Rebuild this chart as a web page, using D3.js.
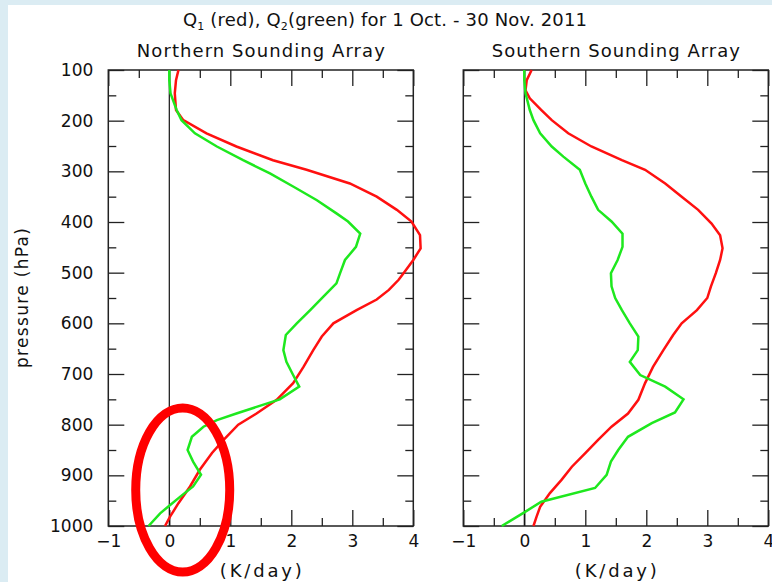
<!DOCTYPE html>
<html>
<head>
<meta charset="utf-8">
<script src="https://cdn.jsdelivr.net/npm/d3@7"></script>
<style>
  body { margin: 0; background: #dbecf3; }
  svg { display: block; }
  text { font-family: "DejaVu Sans", sans-serif; fill: #111; }
</style>
</head>
<body>
<div id="chart"></div>
<script>
// profiles as [pressure hPa, K/day]
var northQ1 = [[100,0.15],[120,0.11],[146,0.09],[179,0.11],[199,0.23],[225,0.61],[251,1.10],[278,1.70],
  [297,2.25],[324,2.96],[350,3.40],[376,3.73],[399,3.97],[426,4.11],[452,4.12],[475,4.00],[501,3.84],
  [514,3.76],[534,3.60],[553,3.40],[574,3.07],[600,2.69],[626,2.50],[653,2.36],[686,2.20],[718,2.03],
  [751,1.76],[778,1.43],[800,1.13],[830,0.89],[856,0.70],[889,0.50],[922,0.34],[955,0.15],[982,0.01],[1000,-0.07]];
var northQ2 = [[100,0.0],[120,0.0],[146,0.02],[179,0.12],[199,0.20],[225,0.42],[251,0.78],[278,1.21],
  [304,1.65],[330,2.03],[357,2.42],[383,2.74],[399,2.93],[423,3.13],[449,3.06],[475,2.88],[501,2.80],
  [521,2.74],[547,2.53],[574,2.31],[600,2.09],[623,1.91],[653,1.87],[676,1.92],[702,2.03],[725,2.13],
  [750,1.81],[765,1.43],[778,1.10],[791,0.78],[804,0.56],[824,0.37],[850,0.30],[873,0.39],[899,0.52],
  [922,0.39],[942,0.18],[962,-0.02],[975,-0.15],[1000,-0.34]];
var southQ1 = [[100,0.12],[120,0.04],[140,0.02],[156,0.09],[179,0.28],[199,0.45],[225,0.72],[251,1.10],
  [278,1.60],[297,1.98],[324,2.31],[350,2.58],[376,2.85],[403,3.07],[426,3.21],[452,3.25],[475,3.21],
  [501,3.14],[527,3.06],[550,3.00],[574,2.83],[600,2.58],[623,2.44],[653,2.28],[686,2.11],[718,1.98],
  [751,1.87],[778,1.70],[804,1.43],[830,1.21],[856,1.00],[883,0.78],[909,0.61],[935,0.42],[962,0.26],
  [982,0.20],[1000,0.15]];
var southQ2 = [[100,0.0],[120,0.0],[146,0.02],[179,0.09],[199,0.15],[225,0.26],[251,0.45],[271,0.64],
  [297,0.91],[324,1.00],[350,1.10],[376,1.21],[399,1.43],[423,1.61],[449,1.61],[475,1.53],[501,1.42],
  [527,1.43],[550,1.49],[574,1.60],[600,1.73],[626,1.87],[653,1.86],[676,1.73],[702,1.90],[725,2.31],
  [750,2.61],[776,2.47],[797,2.09],[824,1.70],[850,1.54],[873,1.42],[899,1.35],[925,1.16],[952,0.28],
  [973,0.0],[1000,-0.37]];

var panelTitles = ["Northern Sounding Array", "Southern Sounding Array"];
var pressureTicks = [100, 200, 300, 400, 500, 600, 700, 800, 900, 1000];
var pressureMinor = [150, 250, 350, 450, 550, 650, 750, 850, 950];
var rateTicks = [-1, 0, 1, 2, 3, 4];
var rateMinor = [-0.5, 0.5, 1.5, 2.5, 3.5];
// highlighted region on the northern panel: centre in data units
var circled = {rate: 0.22, pressure: 929};

var W = 772, H = 582,
    width = 305, height = 456,
    marginTop = 70, lefts = [108.3, 463.3];

var x = d3.scaleLinear().domain([-1, 4]).range([0, width]),
    y = d3.scaleLinear().domain([100, 1000]).range([0, height]);

var svg = d3.select("#chart").append("svg")
    .attr("width", W)
    .attr("height", H);

svg.append("rect").attr("width", W).attr("height", H).attr("fill", "#dbecf3");
svg.append("rect").attr("x", 8).attr("y", 5).attr("width", W - 8).attr("height", H - 5).attr("fill", "#fff");

// the original lettering is wider than DejaVu, so stretch to measured widths
var title = svg.append("text")
    .attr("x", 385).attr("y", 26)
    .attr("text-anchor", "middle")
    .attr("textLength", 404)
    .style("font-size", "18px");
title.append("tspan").text("Q");
title.append("tspan").attr("dy", 4).style("font-size", "11px").text("1");
title.append("tspan").attr("dy", -4).text(" (red), Q");
title.append("tspan").attr("dy", 4).style("font-size", "11px").text("2");
title.append("tspan").attr("dy", -4).text("(green) for 1 Oct. - 30 Nov. 2011");

svg.append("text")
    .attr("transform", "translate(28," + (marginTop + height / 2) + ") rotate(-90)")
    .attr("text-anchor", "middle")
    .attr("textLength", 140)
    .style("font-size", "17px")
    .text("pressure (hPa)");

var line = d3.line()
    .x(function(d) { return x(d[1]); })
    .y(function(d) { return y(d[0]); });

var panels = [[northQ1, northQ2], [southQ1, southQ2]];
var fmt = d3.format("d");

panels.forEach(function(series, i) {
  var g = svg.append("g")
      .attr("transform", "translate(" + lefts[i] + "," + marginTop + ")");

  g.append("text")
      .attr("x", width / 2).attr("y", -13)
      .attr("text-anchor", "middle")
      .attr("textLength", 248)
      .style("font-size", "18px")
      .text(panelTitles[i]);

  // ticks point inwards on all four sides
  var axes = [
    d3.axisLeft(y).tickValues(pressureTicks).tickSize(-16).tickPadding(15).tickFormat(i == 0 ? fmt : ""),
    d3.axisLeft(y).tickValues(pressureMinor).tickSize(-8).tickFormat(""),
    d3.axisRight(y).tickValues(pressureTicks).tickSize(-16).tickFormat(""),
    d3.axisRight(y).tickValues(pressureMinor).tickSize(-8).tickFormat(""),
    d3.axisTop(x).tickValues(rateTicks).tickSize(-16).tickFormat(""),
    d3.axisTop(x).tickValues(rateMinor).tickSize(-8).tickFormat(""),
    d3.axisBottom(x).tickValues(rateTicks).tickSize(-16).tickPadding(9).tickFormat(fmt),
    d3.axisBottom(x).tickValues(rateMinor).tickSize(-8).tickFormat("")
  ];
  var shifts = ["0,0", "0,0", width + ",0", width + ",0", "0,0", "0,0", "0," + height, "0," + height];

  axes.forEach(function(ax, k) {
    var a = g.append("g")
        .attr("transform", "translate(" + shifts[k] + ")")
        .call(ax.tickSizeOuter(0));
    a.select(".domain").remove();
    a.selectAll("line").attr("stroke", "#222").attr("stroke-width", 1.3);
    a.selectAll("text").attr("font-family", null).style("font-size", "17px").attr("fill", "#111");
  });

  g.append("line")
      .attr("x1", x(0)).attr("x2", x(0))
      .attr("y1", 0).attr("y2", height)
      .attr("stroke", "#111").attr("stroke-width", 1.2);

  g.append("rect")
      .attr("width", width).attr("height", height)
      .attr("fill", "none")
      .attr("stroke", "#222").attr("stroke-width", 1.5);

  g.append("path").datum(series[0])
      .attr("d", line)
      .attr("fill", "none").attr("stroke", "#ff1010").attr("stroke-width", 2.5);
  g.append("path").datum(series[1])
      .attr("d", line)
      .attr("fill", "none").attr("stroke", "#1ee81e").attr("stroke-width", 2.5);

  g.append("text")
      .attr("x", width / 2).attr("y", height + 51)
      .attr("text-anchor", "middle")
      .attr("textLength", 82)
      .style("font-size", "18px")
      .text("(K/day)");

  if (i == 0) {
    g.append("ellipse")
        .attr("cx", x(circled.rate)).attr("cy", y(circled.pressure))
        .attr("rx", 47).attr("ry", 82)
        .attr("fill", "none")
        .attr("stroke", "#ff0000").attr("stroke-width", 9);
  }
});
</script>
</body>
</html>
